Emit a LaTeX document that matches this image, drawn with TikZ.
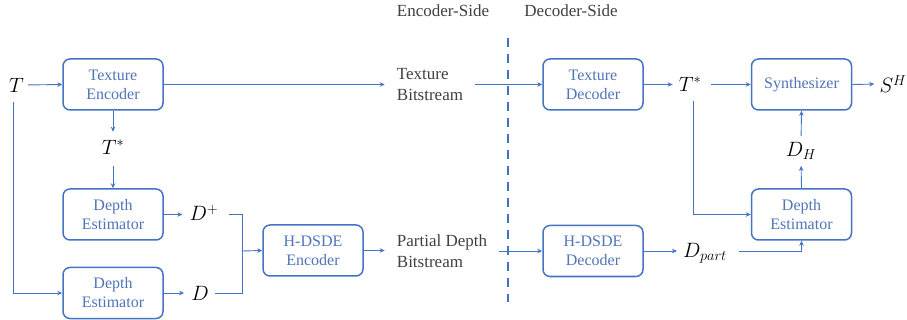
\documentclass[tikz,border=0pt]{standalone}
\usepackage{fontspec}
\setmainfont{Liberation Serif}
\usetikzlibrary{arrows.meta}
\definecolor{lineblue}{RGB}{68,114,196}
\definecolor{txtblue}{RGB}{79,116,184}
\definecolor{lblgray}{RGB}{64,64,64}
\tikzset{
  blk/.style={draw=lineblue, line width=1.5pt, rounded corners=7pt, minimum width=100pt, minimum height=51pt,
    align=center, text=txtblue, font=\fontsize{16}{19}\selectfont, inner sep=0pt},
  arr/.style={draw=lineblue, line width=0.9pt, -{Stealth[length=5pt,width=4.5pt]}},
  ln/.style={draw=lineblue, line width=0.9pt},
  ml/.style={inner sep=0pt, font=\fontsize{22}{22}\selectfont},
  lbl/.style={align=left, text=lblgray, font=\fontsize{17}{21}\selectfont, inner ysep=0pt, inner xsep=12pt},
  side/.style={text=lblgray, font=\fontsize{17}{21}\selectfont, inner sep=0pt}
}
\begin{document}
\begin{tikzpicture}[x=1pt,y=-1pt]
\useasboundingbox (0,0) rectangle (907,320);
% encoder side
\node[ml] (T) at (16.5,85) {$T$};
\node[blk] (tenc) at (113,84.5) {Texture\\Encoder};
\node[ml] (ts1) at (113,147) {$T^{*}$};
\node[blk] (de1) at (113,214.5) {Depth\\Estimator};
\node[blk] (de2) at (113,293) {Depth\\Estimator};
\node[ml] (dp) at (204,213) {$D^{+}$};
\node[ml] (d) at (200,293) {$D$};
\coordinate (jn) at (242,251);
\node[blk] (henc) at (313,250.5) {H-DSDE\\Encoder};
\node[lbl] (tbit) at (430,85) {Texture\\Bitstream};
\node[lbl] (pbit) at (442,251) {Partial Depth\\Bitstream};
\node[side] (es) at (443,11) {Encoder-Side};
\node[side] (ds) at (571,11) {Decoder-Side};
% decoder side
\node[blk] (tdec) at (593,84.5) {Texture\\Decoder};
\node[blk] (hdec) at (593,251) {H-DSDE\\Decoder};
\node[ml] (ts2) at (690,84) {$T^{*}$};
\node[ml] (dpart) at (705,253) {$D_{part}$};
\node[blk] (syn) at (801.5,84.5) {Synthesizer};
\node[blk] (ded) at (801.5,214.5) {Depth\\Estimator};
\node[ml] (dh) at (801,151) {$D_{H}$};
\node[ml] (sh) at (893,84) {$S^{H}$};
% dashed divider
\coordinate (dvt) at (508,38);
\coordinate (dvb) at (508,302);
\draw[lineblue, line width=2.4pt, dash pattern=on 9pt off 7pt] (dvt) -- (dvb);
% connectors encoder
\draw[arr, shorten <=4pt] (T.east) -- (tenc.west);
\draw[arr] (tenc.east) -- (tenc.east -| tbit.west);
\draw[arr, shorten >=8pt] (tenc.south) -- (ts1.north);
\draw[arr, shorten <=12pt] (ts1.south) -- (de1.north);
\draw[arr, shorten <=10pt] ([xshift=-3.5pt]T.south) |- (de2.west);
\draw[arr, shorten >=7pt] (de1.east) -- (de1.east -| dp.west);
\draw[arr, shorten >=7pt] (de2.east) -- (d.west);
\draw[ln, shorten <=10pt] (dp.east |- de1.east) -| (jn);
\draw[ln, shorten <=6pt] (d.east) -| (jn);
\draw[arr] (jn) -- (henc.west);
\draw[arr] (henc.east) -- (henc.east -| pbit.west);
% to decoder
\draw[arr] (tbit.east |- tdec.west) -- (tdec.west);
\draw[arr] (pbit.east |- hdec.west) -- (hdec.west);
% decoder connectors
\draw[arr, shorten >=6pt] (tdec.east) -- (tdec.east -| ts2.west);
\draw[arr, shorten <=10pt] (ts2.east |- syn.west) -- (syn.west);
\draw[arr, shorten >=5pt] (syn.east) -- (sh.west);
\draw[arr, shorten <=10pt] ([xshift=3pt]ts2.south) |- (ded.west);
\draw[arr, shorten >=6pt] (hdec.east) -- (hdec.east -| dpart.west);
\draw[arr, shorten <=12pt] (dpart.east |- hdec.east) -| (ded.south);
\draw[arr, shorten >=6pt] (ded.north) -- (dh.south);
\draw[arr, shorten <=6pt] (dh.north) -- (syn.south);
\end{tikzpicture}
\end{document}
